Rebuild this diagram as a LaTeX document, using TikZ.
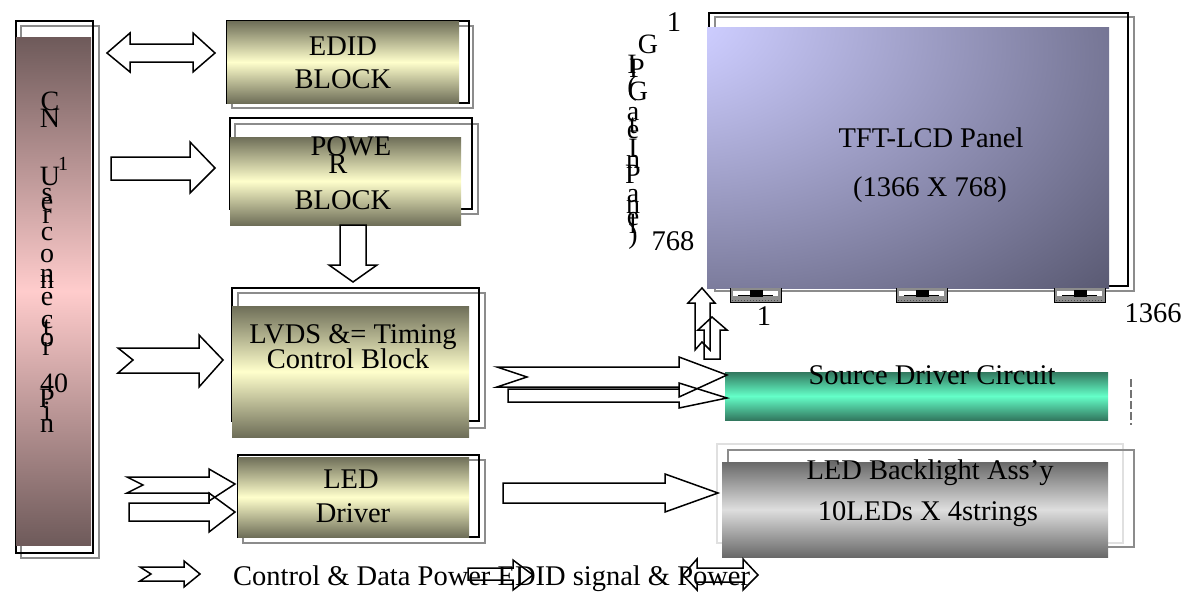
\documentclass[tikz,border=0pt]{standalone}
\usepackage{fontspec}
\setmainfont{Liberation Serif}
\definecolor{cnd}{RGB}{110,90,90}
\definecolor{cnl}{RGB}{255,204,204}
\definecolor{old}{RGB}{110,110,88}
\definecolor{oll}{RGB}{255,255,204}
\definecolor{tld}{RGB}{50,120,95}
\definecolor{tll}{RGB}{100,255,200}
\definecolor{gyd}{RGB}{105,105,105}
\definecolor{gyl}{RGB}{222,222,222}
\definecolor{pnA}{RGB}{205,205,255}
\definecolor{pnB}{RGB}{90,90,115}
\pgfdeclareradialshading{panelsh}{\pgfpoint{-35bp}{30bp}}{color(0bp)=(pnA); color(8bp)=(pnA); color(60bp)=(pnB); color(130bp)=(pnB)}
\tikzset{
  blk/.style={draw=black, line width=1.8pt},
  shd/.style={draw=black!45, line width=1.8pt},
  lsh/.style={draw=black!12, line width=1.8pt},
  arr/.style={draw=black, line width=1.5pt, line join=miter},
  txt/.style={inner sep=0pt, anchor=base, font=\fontsize{28.5}{30}\selectfont},
  ch/.style={inner sep=0pt, anchor=base, font=\fontsize{28}{28}\selectfont},
  sup/.style={inner sep=0pt, anchor=base, font=\fontsize{20}{20}\selectfont},
  cof/.pic={
    \fill[black!45] (0,0) rectangle (51,14);
    \draw[black, line width=1pt] (0,0) -- (0,14) -- (51,14) -- (51,0);
    \fill[white] (3,3) rectangle (48,8);
    \fill[black] (20,2) rectangle (33,9);
    \draw[black, line width=0.8pt] (8,7) -- (43,7);
    \draw[black!70, line width=1pt, dotted] (2,12) -- (49,12);
  }
}
\begin{document}
\begin{tikzpicture}[x=1pt,y=-1pt]
\useasboundingbox (0,0) rectangle (1183,592);

% ---------- CN1 connector ----------
\draw[shd] (21,26) rectangle (99,558);
\draw[blk] (16,21) rectangle (93,553);
\shade[top color=cnd, bottom color=cnd, middle color=cnl] (16,37) rectangle (91,545);
\node[ch] (c1) at (50,110) {C};
\node[ch] (c2) at (50,127) {N};
\node[sup] (c3) at (63,170) {1};
\node[ch] (c4) at (50,185) {U};
\node[ch] (c5) at (47,201) {s};
\node[ch] (c6) at (47,210) {e};
\node[ch] (c7) at (47,223) {r};
\node[ch] (c8) at (47,240) {c};
\node[ch] (c9) at (47,262) {o};
\node[ch] (c10) at (47,282) {n};
\node[ch] (c11) at (47,288) {n};
\node[ch] (c12) at (47,305) {e};
\node[ch] (c13) at (47,328) {c};
\node[ch] (c14) at (47,335) {t};
\node[ch] (c15) at (47,346) {o};
\node[ch] (c16) at (47,355) {r};
\node[ch] (c17) at (54,392) {40};
\node[ch] (c18) at (47,407) {P};
\node[ch] (c19) at (47,420) {i};
\node[ch] (c20) at (47,432) {n};

% ---------- EDID block ----------
\draw[shd] (232,26) rectangle (473,108);
\draw[blk] (227,21) rectangle (469,103);
\shade[top color=old, bottom color=old, middle color=oll] (227,21) rectangle (459,103);
\node[txt] (edid1) at (343,55) {EDID};
\node[txt] (edid2) at (343,88) {BLOCK};

% ---------- POWER block ----------
\draw[shd] (235,124) rectangle (478,214);
\draw[blk] (230,118) rectangle (472,209);
\shade[top color=old, bottom color=old, middle color=oll] (230,137) rectangle (461,225);
\node[txt] (pw1) at (351,155) {POWE};
\node[txt] (pw2) at (338,173) {R};
\node[txt] (pw3) at (343,209) {BLOCK};

% ---------- LVDS block ----------
\draw[shd] (238,293) rectangle (485,428);
\draw[blk] (232,288) rectangle (479,421);
\shade[top color=old, bottom color=old, middle color=oll] (232,306) rectangle (469,437);
\node[txt] (lv1) at (353,343) {LVDS \&= Timing};
\node[txt] (lv2) at (348,368) {Control Block};

% ---------- LED driver ----------
\draw[shd] (243,460) rectangle (485,543);
\draw[blk] (238,455) rectangle (479,537);
\shade[top color=old, bottom color=old, middle color=oll] (238,457) rectangle (469,537);
\node[txt] (ld1) at (351,488) {LED};
\node[txt] (ld2) at (353,522) {Driver};

% ---------- TFT panel ----------
\draw[shd] (715,17) rectangle (1134,291);
\draw[blk] (709,13) rectangle (1128,286);
\shade[shading=panelsh] (707,27) rectangle (1109,288);
\node[txt] (tft1) at (931,147) {TFT-LCD Panel};
\node[txt] (tft2) at (930,196) {(1366 X 768)};
\pic at (730,288) {cof};
\pic at (896,288) {cof};
\pic at (1054,288) {cof};
\node[txt] (n1a) at (674,31) {1};
\node[txt] (n768) at (673,250) {768};
\node[txt] (n1b) at (764,325) {1};
\node[txt] (n1366) at (1153,322) {1366};

% GIP vertical text
\node[ch] (g1) at (648,53) {G};
\node[ch] (g2) at (632,73) {I};
\node[ch] (g3) at (637,77) {P};
\node[ch] (g4) at (632,95) {(};
\node[ch] (g5) at (638,100) {G};
\node[ch] (g6) at (633,120) {a};
\node[ch] (g7) at (633,133) {t};
\node[ch] (g8) at (633,138) {e};
\node[ch] (g9) at (633,157) {I};
\node[ch] (g10) at (633,168) {n};
\node[ch] (g11) at (633,183) {P};
\node[ch] (g12) at (633,202) {a};
\node[ch] (g13) at (633,213) {n};
\node[ch] (g14) at (633,225) {e};
\node[ch] (g15) at (633,233) {l};
\node[ch] (g16) at (633,243) {)};

% ---------- Source driver ----------
\shade[top color=tld, bottom color=tld, middle color=tll] (725,372) rectangle (1108,420);
\node[txt] (src) at (932,384) {Source Driver Circuit};
\draw[black!55, line width=1.6pt, dash pattern=on 8pt off 3pt] (1131,379) -- (1131,425);

% ---------- LED backlight ----------
\draw[lsh] (717,444) rectangle (1123,543);
\draw[shd] (728,450) rectangle (1134,547);
\shade[top color=gyd, bottom color=gyd, middle color=gyl] (722,462) rectangle (1108,557);
\node[txt] (bl1) at (930,479) {LED Backlight Ass’y};
\node[txt] (bl2) at (928,520) {10LEDs X 4strings};

% ---------- block arrows ----------
% CN1 <-> EDID
\draw[arr] (107,53) -- (130,33) -- (130,44) -- (193,44) -- (193,33) -- (215,53) -- (193,72) -- (193,62) -- (130,62) -- (130,72) -- cycle;
% CN1 -> POWER
\draw[arr] (111,157) -- (190,157) -- (190,142) -- (215,168) -- (190,193) -- (190,180) -- (111,180) -- cycle;
% CN1 -> LVDS (notched)
\draw[arr] (118,348) -- (199,348) -- (199,335) -- (223,360) -- (199,387) -- (199,373) -- (118,373) -- (133,360) -- cycle;
% CN1 -> LED driver (notched + plain)
\draw[arr] (127,477) -- (209,477) -- (209,469) -- (235,484) -- (209,501) -- (209,493) -- (127,493) -- (143,485) -- cycle;
\draw[arr] (129,503) -- (209,503) -- (209,493) -- (235,512) -- (209,532) -- (209,521) -- (129,521) -- cycle;
% POWER -> LVDS
\draw[arr] (340,225) -- (366,225) -- (366,265) -- (377,265) -- (353,282) -- (329,265) -- (340,265) -- cycle;
% LVDS -> Source
\draw[arr] (497,367) -- (679,367) -- (679,357) -- (727,375) -- (679,397) -- (679,387) -- (497,387) -- (527,377) -- cycle;
\draw[arr] (508,389) -- (679,389) -- (679,383) -- (727,398) -- (679,408) -- (679,402) -- (508,402) -- cycle;
% LED driver -> backlight
\draw[arr] (503,483) -- (665,483) -- (665,474) -- (718,493) -- (665,512) -- (665,503) -- (503,503) -- cycle;
% Source -> panel (up)
\draw[arr] (702,288) -- (715,303) -- (710,303) -- (710,350) -- (702,342) -- (695,350) -- (695,303) -- (688,303) -- cycle;
\draw[arr] (712,317) -- (727,330) -- (720,330) -- (720,359) -- (704,359) -- (704,330) -- (698,330) -- cycle;

% ---------- legend ----------
\draw[arr] (140,567) -- (184,567) -- (184,561) -- (200,574) -- (184,587) -- (184,581) -- (140,581) -- (151,574) -- cycle;
\node[txt, anchor=base west] (leg) at (233,585) {Control \& Data Power EDID signal \& Power};
\draw[arr] (468,568) -- (513,568) -- (513,560) -- (533,575) -- (513,590) -- (513,580) -- (468,580) -- cycle;
\draw[arr] (683,575) -- (697,559) -- (697,568) -- (743,568) -- (743,559) -- (758,575) -- (743,590) -- (743,582) -- (697,582) -- (697,590) -- cycle;
\end{tikzpicture}
\end{document}
